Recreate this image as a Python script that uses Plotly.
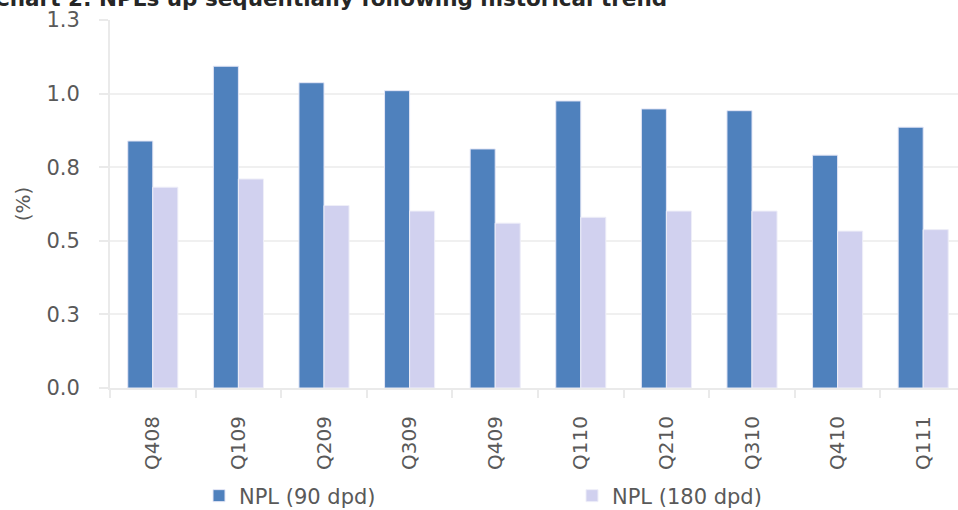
import plotly.graph_objects as go

categories = ["Q408", "Q109", "Q209", "Q309", "Q409", "Q110", "Q210", "Q310", "Q410", "Q111"]
npl_90 = [0.839, 1.093, 1.037, 1.010, 0.812, 0.975, 0.948, 0.942, 0.791, 0.886]
npl_180 = [0.682, 0.710, 0.620, 0.601, 0.560, 0.580, 0.601, 0.601, 0.533, 0.538]
y_tickvals = [0, 0.25, 0.5, 0.75, 1.0, 1.25]
y_ticktext = ["0.0", "0.3", "0.5", "0.8", "1.0", "1.3"]

W, H = 958, 510
L, R, T, B = 110, 0, 20, 122
pw = W - L - R
ph = H - T - B

def px_x(p):
    return (p - L) / pw

def px_y(p):
    return (H - B - p) / ph

fig = go.Figure()
fig.add_trace(go.Bar(
    x=categories, y=npl_90, name="NPL (90 dpd)",
    marker=dict(color="#4F81BD", line=dict(color="#E4E6F6", width=1)),
    legend="legend",
))
fig.add_trace(go.Bar(
    x=categories, y=npl_180, name="NPL (180 dpd)",
    marker=dict(color="#D1D1EF", line=dict(color="#EEEEF8", width=1)),
    legend="legend2",
))

txt_color = "#595959"
font_main = "DejaVu Sans"
legend_font = dict(family=font_main, size=21, color=txt_color)

fig.update_layout(
    width=W, height=H,
    margin=dict(l=L, r=R, t=T, b=B, pad=0, autoexpand=False),
    paper_bgcolor="white", plot_bgcolor="white",
    barmode="group", bargap=0.415, bargroupgap=0,
    showlegend=True,
    legend=dict(x=px_x(199), xref="paper", y=1 - 496 / H, yref="container",
                xanchor="left", yanchor="middle",
                orientation="h", font=legend_font, bgcolor="rgba(0,0,0,0)",
                itemwidth=30, tracegroupgap=0),
    legend2=dict(x=px_x(572), xref="paper", y=1 - 496 / H, yref="container",
                 xanchor="left", yanchor="middle",
                 orientation="h", font=legend_font, bgcolor="rgba(0,0,0,0)",
                 itemwidth=30, tracegroupgap=0),
    xaxis=dict(
        type="category", range=[-0.5, -0.5 + pw / 85.6], automargin=False,
        showgrid=False, showline=True, linecolor="#EAEAEA", linewidth=2,
        ticks="outside", tickson="boundaries", ticklen=8, tickcolor="#EAEAEA", tickwidth=2,
        tickangle=-90, tickfont=dict(family=font_main, size=20, color=txt_color),
        ticklabelstandoff=18,
    ),
    yaxis=dict(
        range=[0, 1.25], tickvals=y_tickvals, ticktext=y_ticktext, automargin=False,
        showgrid=True, gridcolor="#F0F0F0", gridwidth=1.5,
        showline=True, linecolor="#EAEAEA", linewidth=2,
        ticks="outside", ticklen=9, tickcolor="#EAEAEA", tickwidth=2,
        tickfont=dict(family=font_main, size=21, color=txt_color), ticklabelstandoff=15,
        zeroline=False,
        title=dict(text="(%)", font=dict(family=font_main, size=20, color=txt_color), standoff=10),
    ),
    annotations=[dict(
        text="<b>Chart 2: NPLs up sequentially following historical trend</b>",
        xref="paper", yref="paper", x=px_x(-8), y=px_y(-2), xanchor="left", yanchor="middle",
        showarrow=False, font=dict(family=font_main, size=21.5, color="#262626"),
    )],
)

fig.write_html("out.html")
